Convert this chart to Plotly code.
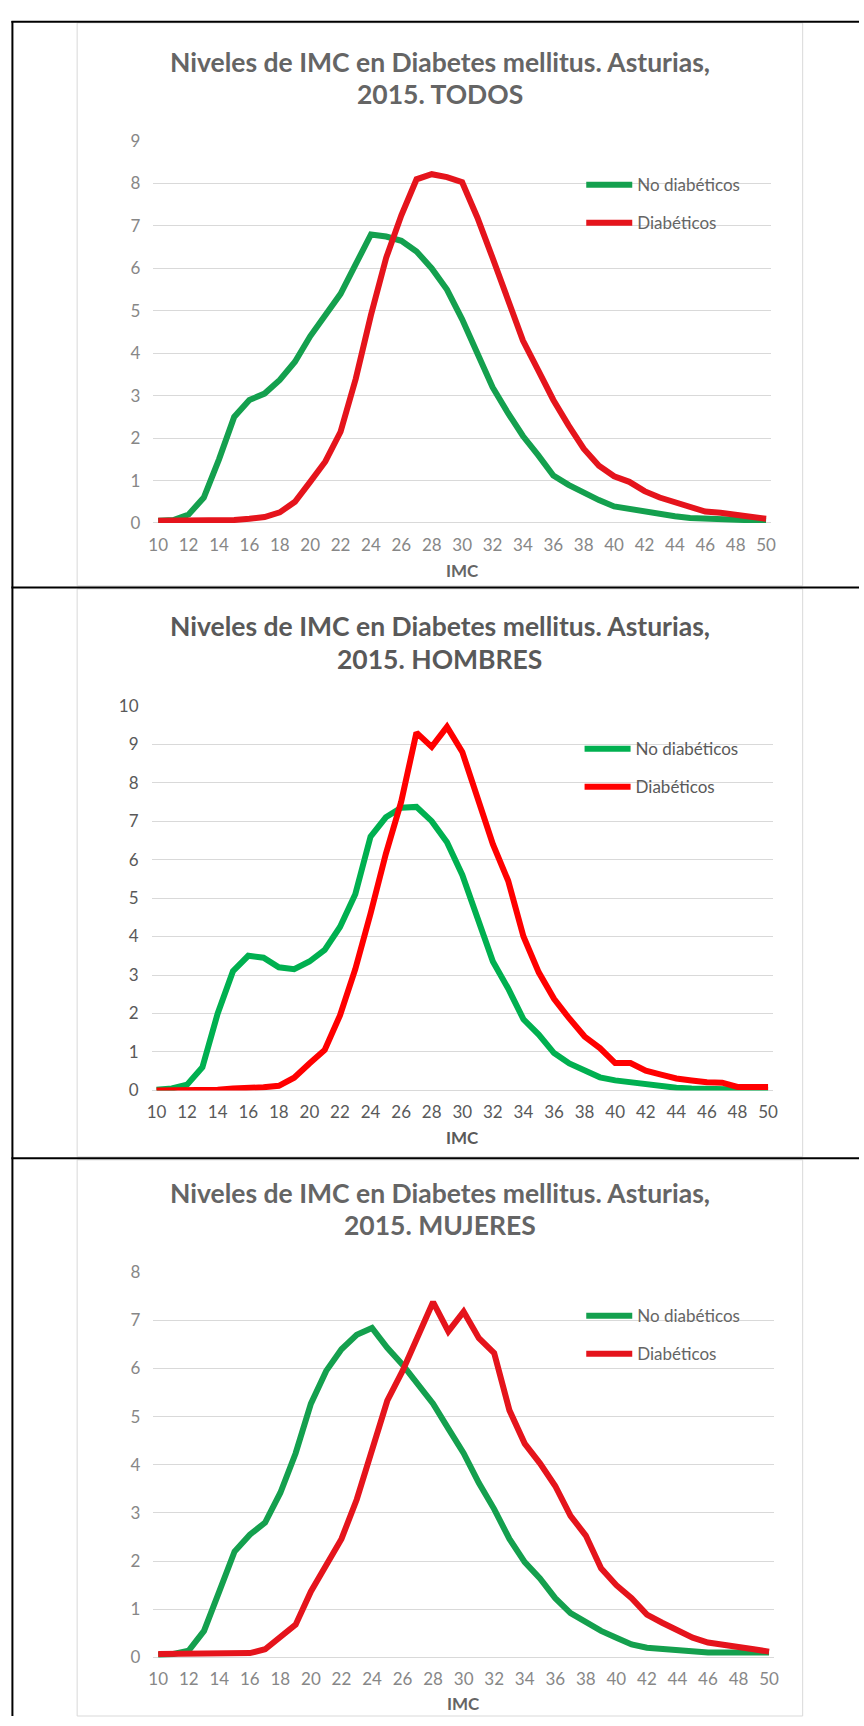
import plotly.graph_objects as go

W, H = 864, 1726

# IMC categories (x) and tick labels
imc = list(range(10, 51))
x_ticks = list(range(10, 51, 2))

# % of people at each IMC value
todos_no = [0.05, 0.07, 0.2, 0.6, 1.5, 2.5, 2.9, 3.05, 3.37, 3.8, 4.4, 4.9, 5.4, 6.1, 6.8,
            6.75, 6.65, 6.4, 6.0, 5.5, 4.8, 4.0, 3.2, 2.6, 2.05, 1.6, 1.12, 0.9, 0.7, 0.54,
            0.39, 0.33, 0.26, 0.2, 0.16, 0.12, 0.1, 0.08, 0.06, 0.05, 0.05]
todos_dm = [0.05, 0.05, 0.05, 0.05, 0.06, 0.07, 0.1, 0.14, 0.25, 0.5, 0.97, 1.45, 2.15, 3.4, 4.9,
            6.25, 7.25, 8.1, 8.22, 8.15, 8.03, 7.2, 6.25, 5.25, 4.3, 3.6, 2.9, 2.3, 1.75, 1.35,
            1.1, 0.97, 0.75, 0.6, 0.48, 0.36, 0.27, 0.24, 0.2, 0.15, 0.1]
hombres_no = [0.02, 0.05, 0.15, 0.6, 2.0, 3.1, 3.5, 3.45, 3.2, 3.15, 3.35, 3.65, 4.25, 5.1, 6.6,
              7.1, 7.35, 7.37, 7.0, 6.45, 5.6, 4.5, 3.35, 2.65, 1.85, 1.45, 0.97, 0.7, 0.5, 0.34,
              0.26, 0.21, 0.15, 0.1, 0.07, 0.05, 0.04, 0.03, 0.02, 0.01, 0.01]
hombres_dm = [0.0, 0.0, 0.0, 0.0, 0.02, 0.05, 0.05, 0.08, 0.12, 0.33, 0.7, 1.05, 1.95, 3.15, 4.6,
              6.15, 7.5, 9.3, 8.93, 9.45, 8.8, 7.6, 6.4, 5.45, 4.0, 3.07, 2.38, 1.87, 1.4, 1.1,
              0.71, 0.71, 0.51, 0.41, 0.31, 0.26, 0.21, 0.2, 0.09, 0.09, 0.09]
mujeres_no = [0.05, 0.07, 0.14, 0.55, 1.37, 2.2, 2.55, 2.8, 3.42, 4.24, 5.27, 5.95, 6.4, 6.7, 6.84,
              6.43, 6.08, 5.68, 5.27, 4.75, 4.24, 3.62, 3.08, 2.46, 1.98, 1.64, 1.23, 0.92, 0.72, 0.55,
              0.41, 0.27, 0.2, 0.17, 0.14, 0.12, 0.1, 0.1, 0.1, 0.1, 0.1]
mujeres_dm = [0.07, 0.07, 0.07, 0.07, 0.08, 0.08, 0.09, 0.17, 0.41, 0.68, 1.37, 1.91, 2.46, 3.28, 4.3,
              5.33, 5.95, 6.63, 7.38, 6.77, 7.18, 6.63, 6.32, 5.13, 4.44, 4.03, 3.56, 2.94, 2.53, 1.85,
              1.5, 1.23, 0.89, 0.72, 0.55, 0.41, 0.31, 0.27, 0.24, 0.17, 0.12]

title_main = "Niveles de IMC en Diabetes mellitus. Asturias,"
FONT = "Lato"

# pixel layout of each chart image inside the table
panels = [
    dict(sub="2015. TODOS", no=todos_no, dm=todos_dm, ymax=9, box=(12, 582),
         x10=155, x50=770, y0=518.3, ytop=131.7, t1=52, t2=84, imc=566, leg=171,
         green="#14A04E", red="#E5141C", ink="#656565", tick="#878787"),
    dict(sub="2015. HOMBRES", no=hombres_no, dm=hombres_dm, ymax=10, box=(585, 1160),
         x10=153.3, x50=772, y0=1092.7, ytop=703.3, t1=623, t2=656, imc=1140, leg=742,
         green="#00B050", red="#FF0000", ink="#595959", tick="#595959"),
    dict(sub="2015. MUJERES", no=mujeres_no, dm=mujeres_dm, ymax=8, box=(1163, 1726),
         x10=155, x50=773, y0=1666.7, ytop=1276.7, t1=1197, t2=1229, imc=1713, leg=1316,
         green="#14A04E", red="#E5141C", ink="#656565", tick="#878787"),
]

fig = go.Figure()
shapes = []
annotations = []
layout = {}

# table borders
shapes.append(dict(type="line", xref="paper", yref="paper", x0=7.5 / W, x1=7.5 / W,
                   y0=1 - 10 / H, y1=0, line=dict(color="black", width=2)))
for yy in (11, 583.5, 1161.5):
    shapes.append(dict(type="line", xref="paper", yref="paper", x0=6.5 / W, x1=1,
                       y0=1 - yy / H, y1=1 - yy / H, line=dict(color="black", width=2)))

for i, p in enumerate(panels):
    n = "" if i == 0 else str(i + 1)
    legname = "legend" + n
    unit = (p["x50"] - p["x10"]) / 40
    pad = 5
    top, bot = p["box"]

    shapes.append(dict(type="rect", xref="paper", yref="paper", layer="below",
                       x0=73 / W, x1=807 / W, y0=1 - bot / H, y1=1 - top / H,
                       line=dict(color="#D9D9D9", width=1), fillcolor="white"))

    layout["xaxis" + n] = dict(
        domain=[(p["x10"] - pad) / W, (p["x50"] + pad) / W],
        range=[10 - pad / unit, 50 + pad / unit],
        anchor="y" + n, tickmode="array", tickvals=x_ticks,
        showgrid=False, zeroline=False, showline=False, ticks="",
        ticklabelstandoff=10,
        tickfont=dict(family=FONT, size=17, color=p["tick"]),
    )
    layout["yaxis" + n] = dict(
        domain=[1 - p["y0"] / H, 1 - p["ytop"] / H],
        range=[0, p["ymax"]], anchor="x" + n, dtick=1,
        showgrid=True, gridcolor="#D9D9D9", gridwidth=1,
        zeroline=True, zerolinecolor="#D9D9D9", zerolinewidth=1,
        showline=False, ticks="", ticklabelstandoff=12,
        tickfont=dict(family=FONT, size=17, color=p["tick"]),
    )
    layout[legname] = dict(
        x=(p["x10"] + 428) / W, xanchor="left",
        y=1 - (p["leg"] - 13) / H, yanchor="top",
        bgcolor="rgba(0,0,0,0)", itemwidth=46, tracegroupgap=13,
        traceorder="grouped",
        font=dict(family=FONT, size=17, color=p["ink"]),
    )

    fig.add_trace(go.Scatter(
        x=imc, y=p["no"], mode="lines", name="No diabéticos",
        line=dict(color=p["green"], width=6), xaxis="x" + n, yaxis="y" + n,
        legend=legname, legendgroup="no" + n, hoverinfo="skip"))
    fig.add_trace(go.Scatter(
        x=imc, y=p["dm"], mode="lines", name="Diabéticos",
        line=dict(color=p["red"], width=6), xaxis="x" + n, yaxis="y" + n,
        legend=legname, legendgroup="dm" + n, hoverinfo="skip"))

    for txt, yy in ((title_main, p["t1"]), (p["sub"], p["t2"])):
        annotations.append(dict(text="<b>" + txt + "</b>", xref="paper", yref="paper",
                                x=440 / W, y=1 - yy / H, xanchor="center", yanchor="middle",
                                showarrow=False,
                                font=dict(family=FONT, size=26.5, color=p["ink"])))
    annotations.append(dict(text="<b>IMC</b>", xref="paper", yref="paper",
                            x=(p["x10"] + p["x50"]) / 2 / W, y=1 - p["imc"] / H,
                            xanchor="center", yanchor="middle", showarrow=False,
                            font=dict(family=FONT, size=17, color=p["ink"])))

fig.update_layout(
    width=W, height=H, autosize=False,
    margin=dict(l=0, r=0, t=0, b=0),
    paper_bgcolor="white", plot_bgcolor="rgba(0,0,0,0)",
    shapes=shapes, annotations=annotations,
    **layout,
)

# the page body has a default 8px margin; drop it so the figure fills the window
fig.write_html("out.html", config={"displayModeBar": False},
               post_script="document.body.style.margin='0';document.body.style.overflow='hidden';")
